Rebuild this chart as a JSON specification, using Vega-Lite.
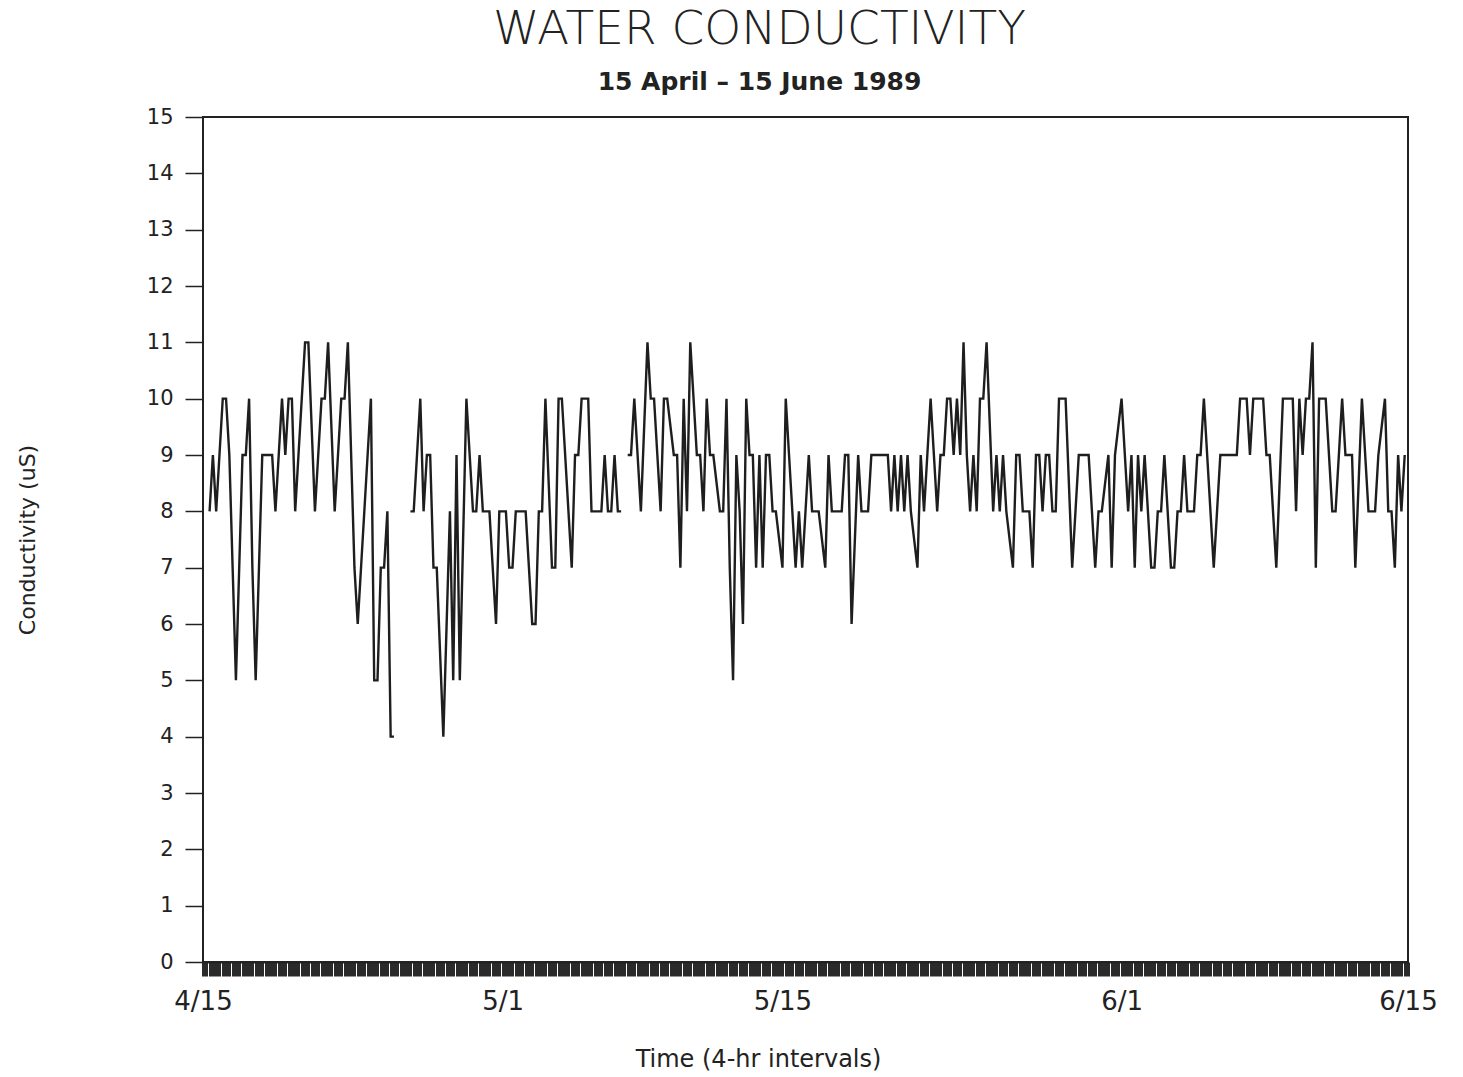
{
  "$schema": "https://vega.github.io/schema/vega-lite/v6.json",
  "width": 1205,
  "height": 845,
  "autosize": {"type": "none"},
  "padding": {"left": 203, "top": 117, "right": 55, "bottom": 115},
  "background": "white",
  "title": {
    "text": "WATER CONDUCTIVITY",
    "subtitle": "15 April – 15 June 1989",
    "font": "DejaVu Sans",
    "fontSize": 47,
    "fontWeight": 300,
    "color": "#222222",
    "subtitleFont": "DejaVu Sans",
    "subtitleFontSize": 25,
    "subtitleFontWeight": "bold",
    "subtitleColor": "#222222",
    "subtitlePadding": 16,
    "offset": 10,
    "anchor": "middle",
    "dx": -46
  },
  "config": {
    "view": {"stroke": "#222222", "strokeWidth": 2},
    "axis": {"grid": false, "domainColor": "#222222", "tickColor": "#222222", "labelColor": "#222222", "titleColor": "#222222", "labelFont": "DejaVu Sans", "titleFont": "DejaVu Sans", "titleFontWeight": "normal"}
  },
  "data": {
    "values": [
      {"i": 2, "c": 8}, {"i": 3, "c": 9}, {"i": 4, "c": 8}, {"i": 6, "c": 10}, {"i": 7, "c": 10}, {"i": 8, "c": 9}, {"i": 9, "c": 7}, {"i": 10, "c": 5},
      {"i": 12, "c": 9}, {"i": 13, "c": 9}, {"i": 14, "c": 10}, {"i": 15, "c": 7}, {"i": 16, "c": 5}, {"i": 17, "c": 7}, {"i": 18, "c": 9}, {"i": 21, "c": 9},
      {"i": 22, "c": 8}, {"i": 23, "c": 9}, {"i": 24, "c": 10}, {"i": 25, "c": 9}, {"i": 26, "c": 10}, {"i": 27, "c": 10}, {"i": 28, "c": 8}, {"i": 29, "c": 9},
      {"i": 30, "c": 10}, {"i": 31, "c": 11}, {"i": 32, "c": 11}, {"i": 34, "c": 8}, {"i": 36, "c": 10}, {"i": 37, "c": 10}, {"i": 38, "c": 11}, {"i": 40, "c": 8},
      {"i": 42, "c": 10}, {"i": 43, "c": 10}, {"i": 44, "c": 11}, {"i": 46, "c": 7}, {"i": 47, "c": 6}, {"i": 48, "c": 7}, {"i": 50, "c": 9}, {"i": 51, "c": 10},
      {"i": 52, "c": 5}, {"i": 53, "c": 5}, {"i": 54, "c": 7}, {"i": 55, "c": 7}, {"i": 56, "c": 8}, {"i": 57, "c": 4}, {"i": 58, "c": 4},
      {"i": 60, "c": null},
      {"i": 63, "c": 8}, {"i": 64, "c": 8}, {"i": 66, "c": 10}, {"i": 67, "c": 8}, {"i": 68, "c": 9}, {"i": 69, "c": 9}, {"i": 70, "c": 7}, {"i": 71, "c": 7},
      {"i": 73, "c": 4}, {"i": 75, "c": 8}, {"i": 76, "c": 5}, {"i": 77, "c": 9}, {"i": 78, "c": 5}, {"i": 80, "c": 10}, {"i": 81, "c": 9}, {"i": 82, "c": 8},
      {"i": 83, "c": 8}, {"i": 84, "c": 9}, {"i": 85, "c": 8}, {"i": 87, "c": 8}, {"i": 89, "c": 6}, {"i": 90, "c": 8}, {"i": 92, "c": 8}, {"i": 93, "c": 7},
      {"i": 94, "c": 7}, {"i": 95, "c": 8}, {"i": 98, "c": 8}, {"i": 100, "c": 6}, {"i": 101, "c": 6}, {"i": 102, "c": 8}, {"i": 103, "c": 8}, {"i": 104, "c": 10},
      {"i": 106, "c": 7}, {"i": 107, "c": 7}, {"i": 108, "c": 10}, {"i": 109, "c": 10}, {"i": 112, "c": 7}, {"i": 113, "c": 9}, {"i": 114, "c": 9}, {"i": 115, "c": 10},
      {"i": 117, "c": 10}, {"i": 118, "c": 8}, {"i": 121, "c": 8}, {"i": 122, "c": 9}, {"i": 123, "c": 8}, {"i": 124, "c": 8}, {"i": 125, "c": 9}, {"i": 126, "c": 8},
      {"i": 127, "c": 8},
      {"i": 128, "c": null},
      {"i": 129, "c": 9}, {"i": 130, "c": 9}, {"i": 131, "c": 10}, {"i": 133, "c": 8}, {"i": 135, "c": 11}, {"i": 136, "c": 10}, {"i": 137, "c": 10}, {"i": 138, "c": 9},
      {"i": 139, "c": 8}, {"i": 140, "c": 10}, {"i": 141, "c": 10}, {"i": 143, "c": 9}, {"i": 144, "c": 9}, {"i": 145, "c": 7}, {"i": 146, "c": 10}, {"i": 147, "c": 8},
      {"i": 148, "c": 11}, {"i": 150, "c": 9}, {"i": 151, "c": 9}, {"i": 152, "c": 8}, {"i": 153, "c": 10}, {"i": 154, "c": 9}, {"i": 155, "c": 9}, {"i": 157, "c": 8},
      {"i": 158, "c": 8}, {"i": 159, "c": 10}, {"i": 160, "c": 7}, {"i": 161, "c": 5}, {"i": 162, "c": 9}, {"i": 163, "c": 8}, {"i": 164, "c": 6}, {"i": 165, "c": 10},
      {"i": 166, "c": 9}, {"i": 167, "c": 9}, {"i": 168, "c": 7}, {"i": 169, "c": 9}, {"i": 170, "c": 7}, {"i": 171, "c": 9}, {"i": 172, "c": 9}, {"i": 173, "c": 8},
      {"i": 174, "c": 8}, {"i": 176, "c": 7}, {"i": 177, "c": 10}, {"i": 178, "c": 9}, {"i": 180, "c": 7}, {"i": 181, "c": 8}, {"i": 182, "c": 7}, {"i": 184, "c": 9},
      {"i": 185, "c": 8}, {"i": 187, "c": 8}, {"i": 189, "c": 7}, {"i": 190, "c": 9}, {"i": 191, "c": 8}, {"i": 194, "c": 8}, {"i": 195, "c": 9}, {"i": 196, "c": 9},
      {"i": 197, "c": 6}, {"i": 199, "c": 9}, {"i": 200, "c": 8}, {"i": 202, "c": 8}, {"i": 203, "c": 9}, {"i": 208, "c": 9}, {"i": 209, "c": 8}, {"i": 210, "c": 9},
      {"i": 211, "c": 8}, {"i": 212, "c": 9}, {"i": 213, "c": 8}, {"i": 214, "c": 9}, {"i": 215, "c": 8}, {"i": 217, "c": 7}, {"i": 218, "c": 9}, {"i": 219, "c": 8},
      {"i": 220, "c": 9}, {"i": 221, "c": 10}, {"i": 222, "c": 9}, {"i": 223, "c": 8}, {"i": 224, "c": 9}, {"i": 225, "c": 9}, {"i": 226, "c": 10}, {"i": 227, "c": 10},
      {"i": 228, "c": 9}, {"i": 229, "c": 10}, {"i": 230, "c": 9}, {"i": 231, "c": 11}, {"i": 232, "c": 9}, {"i": 233, "c": 8}, {"i": 234, "c": 9}, {"i": 235, "c": 8},
      {"i": 236, "c": 10}, {"i": 237, "c": 10}, {"i": 238, "c": 11}, {"i": 240, "c": 8}, {"i": 241, "c": 9}, {"i": 242, "c": 8}, {"i": 243, "c": 9}, {"i": 244, "c": 8},
      {"i": 246, "c": 7}, {"i": 247, "c": 9}, {"i": 248, "c": 9}, {"i": 249, "c": 8}, {"i": 251, "c": 8}, {"i": 252, "c": 7}, {"i": 253, "c": 9}, {"i": 254, "c": 9},
      {"i": 255, "c": 8}, {"i": 256, "c": 9}, {"i": 257, "c": 9}, {"i": 258, "c": 8}, {"i": 259, "c": 8}, {"i": 260, "c": 10}, {"i": 262, "c": 10}, {"i": 264, "c": 7},
      {"i": 265, "c": 8}, {"i": 266, "c": 9}, {"i": 269, "c": 9}, {"i": 271, "c": 7}, {"i": 272, "c": 8}, {"i": 273, "c": 8}, {"i": 275, "c": 9}, {"i": 276, "c": 7},
      {"i": 277, "c": 9}, {"i": 279, "c": 10}, {"i": 280, "c": 9}, {"i": 281, "c": 8}, {"i": 282, "c": 9}, {"i": 283, "c": 7}, {"i": 284, "c": 9}, {"i": 285, "c": 8},
      {"i": 286, "c": 9}, {"i": 288, "c": 7}, {"i": 289, "c": 7}, {"i": 290, "c": 8}, {"i": 291, "c": 8}, {"i": 292, "c": 9}, {"i": 294, "c": 7}, {"i": 295, "c": 7},
      {"i": 296, "c": 8}, {"i": 297, "c": 8}, {"i": 298, "c": 9}, {"i": 299, "c": 8}, {"i": 301, "c": 8}, {"i": 302, "c": 9}, {"i": 303, "c": 9}, {"i": 304, "c": 10},
      {"i": 307, "c": 7}, {"i": 309, "c": 9}, {"i": 314, "c": 9}, {"i": 315, "c": 10}, {"i": 317, "c": 10}, {"i": 318, "c": 9}, {"i": 319, "c": 10}, {"i": 322, "c": 10},
      {"i": 323, "c": 9}, {"i": 324, "c": 9}, {"i": 326, "c": 7}, {"i": 328, "c": 10}, {"i": 331, "c": 10}, {"i": 332, "c": 8}, {"i": 333, "c": 10}, {"i": 334, "c": 9},
      {"i": 335, "c": 10}, {"i": 336, "c": 10}, {"i": 337, "c": 11}, {"i": 338, "c": 7}, {"i": 339, "c": 10}, {"i": 341, "c": 10}, {"i": 343, "c": 8}, {"i": 344, "c": 8},
      {"i": 346, "c": 10}, {"i": 347, "c": 9}, {"i": 349, "c": 9}, {"i": 350, "c": 7}, {"i": 352, "c": 10}, {"i": 354, "c": 8}, {"i": 356, "c": 8}, {"i": 357, "c": 9},
      {"i": 359, "c": 10}, {"i": 360, "c": 8}, {"i": 361, "c": 8}, {"i": 362, "c": 7}, {"i": 363, "c": 9}, {"i": 364, "c": 8}, {"i": 365, "c": 9}
    ]
  },
  "mark": {"type": "line", "color": "#1e1e1e", "strokeWidth": 2.4, "invalid": "break-paths-filter-domains"},
  "encoding": {
    "x": {
      "field": "i",
      "type": "quantitative",
      "scale": {"domain": [0, 366], "nice": false, "zero": false},
      "axis": {
        "title": "Time (4-hr intervals)",
        "titleFontSize": 24,
        "titlePadding": 33,
        "titleX": 555,
        "tickCount": 366,
        "tickSize": 14,
        "tickWidth": 3,
        "tickColor": "#2a2a2a",
        "domainWidth": 2,
        "labelExpr": "datum.value == 0 ? '4/15' : datum.value == 91 ? '5/1' : datum.value == 176 ? '5/15' : datum.value == 279 ? '6/1' : datum.value == 366 ? '6/15' : ''",
        "labelOverlap": false,
        "labelFlush": false,
        "labelFontSize": 26,
        "labelPadding": 12
      }
    },
    "y": {
      "field": "c",
      "type": "quantitative",
      "scale": {"domain": [0, 15], "nice": false},
      "axis": {
        "title": "Conductivity (uS)",
        "titleFontSize": 22,
        "titlePadding": 107,
        "values": [0, 1, 2, 3, 4, 5, 6, 7, 8, 9, 10, 11, 12, 13, 14, 15],
        "tickSize": 18,
        "tickWidth": 1.5,
        "domain": false,
        "labelFontSize": 21,
        "labelPadding": 12
      }
    }
  }
}
